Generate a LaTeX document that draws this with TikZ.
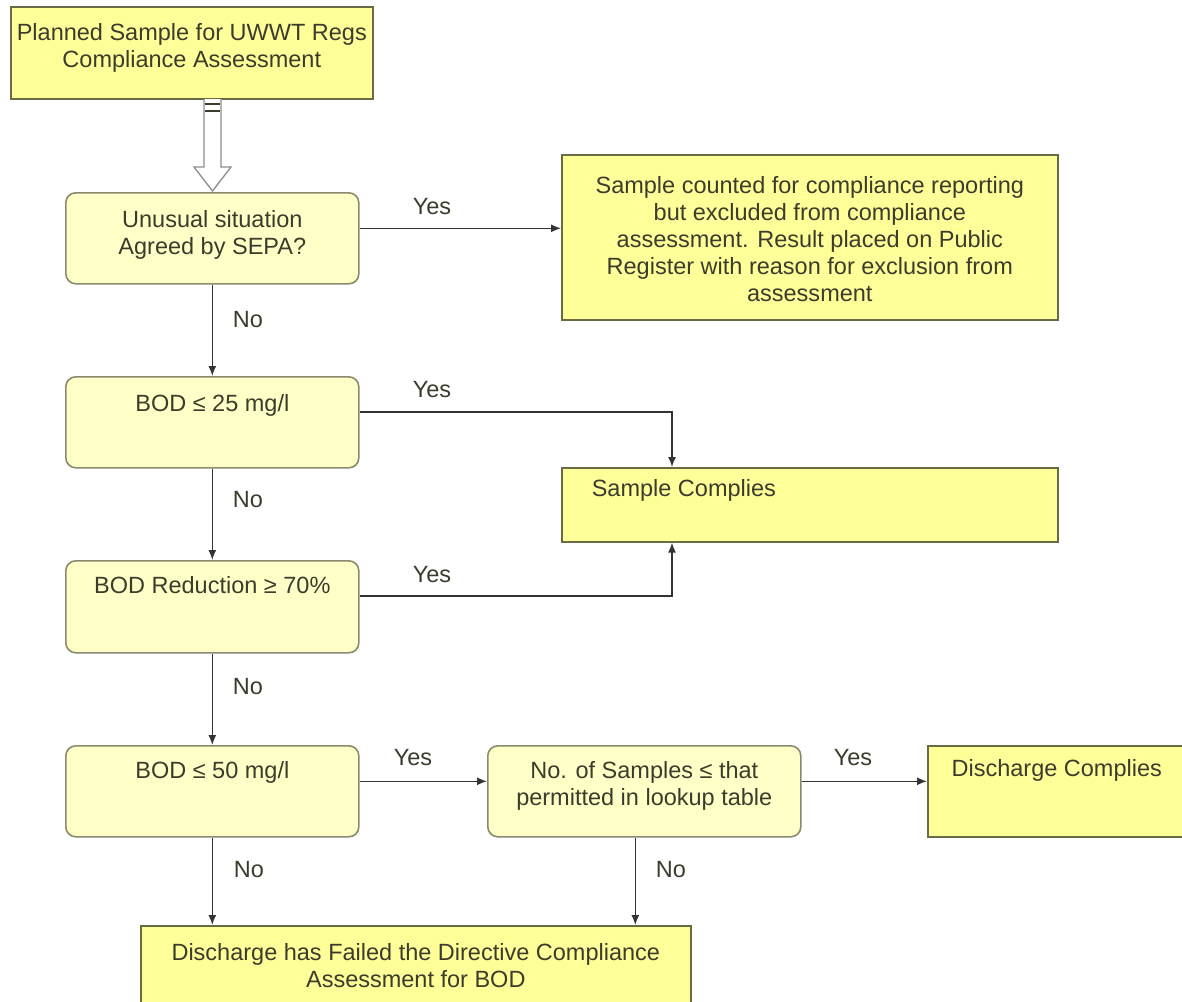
\documentclass[tikz,border=0pt]{standalone}
\usepackage{fontspec}
\setmainfont{Liberation Sans}
\usetikzlibrary{arrows.meta}

\definecolor{paleyel}{HTML}{FFFFC8}
\definecolor{brightyel}{HTML}{FFFF99}
\definecolor{softedge}{HTML}{8A8A6E}
\definecolor{darkedge}{HTML}{6A6A44}
\definecolor{inkgray}{HTML}{3C3C2C}
\definecolor{linegray}{HTML}{333333}
\definecolor{hollowgray}{HTML}{8C8C8C}

% text block: width, height, first baseline offset (all in pt), lines
\newcommand{\boxtxt}[4]{\parbox[c][#2pt][t]{#1pt}{\centering\vspace*{\dimexpr#3pt-\ht\strutbox\relax}\strut#4}}

\tikzset{
  decision/.style={draw=softedge, line width=1.6pt, fill=paleyel, rounded corners=10pt,
    inner sep=0pt, anchor=north west, text=inkgray, font=\fontsize{23.5}{27}\selectfont},
  outcome/.style={draw=darkedge, line width=1.6pt, fill=brightyel,
    inner sep=0pt, anchor=north west, text=inkgray, font=\fontsize{23.5}{27}\selectfont},
  flow/.style={draw=linegray, line width=1.5pt, -{Latex[length=10pt,width=8pt]}},
  tag/.style={text=inkgray, inner sep=0pt, font=\fontsize{23.5}{27}\selectfont}
}

\begin{document}
\begin{tikzpicture}[x=1pt,y=-1pt]
\useasboundingbox (0,0) rectangle (1182,1001);
\fill[white] (0,0) rectangle (1182,1001);

% boxes
\node[outcome]  (start)    at (10,6)    {\boxtxt{362}{92}{34}{Planned Sample for UWWT Regs\\Compliance Assessment}};
\node[decision] (unusual)  at (65,192)  {\boxtxt{293}{91}{35}{Unusual situation\\Agreed by SEPA?}};
\node[outcome]  (counted)  at (561,154) {\boxtxt{496}{165}{39}{Sample counted for compliance reporting\\but excluded from compliance\\assessment. Result placed on Public\\Register with reason for exclusion from\\assessment}};
\node[decision] (bod25)    at (65,376)  {\boxtxt{293}{91}{35}{BOD ≤ 25 mg/l}};
\node[outcome]  (complies) at (561,467) {\parbox[c][74pt][t]{496pt}{\vspace*{\dimexpr29pt-\ht\strutbox\relax}\strut\hspace*{30pt}Sample Complies}};
\node[decision] (red70)    at (65,560)  {\boxtxt{293}{92}{33}{BOD Reduction ≥ 70\%}};
\node[decision] (bod50)    at (65,745)  {\boxtxt{293}{91}{33}{BOD ≤ 50 mg/l}};
\node[decision] (nsamp)    at (487,745) {\boxtxt{313}{91}{33}{No. of Samples ≤ that\\permitted in lookup table}};
\node[outcome]  (dcomp)    at (927,745) {\boxtxt{258}{91}{31}{Discharge Complies}};
\node[outcome]  (failed)   at (140,925) {\boxtxt{550}{80}{35}{Discharge has Failed the Directive Compliance\\Assessment for BOD}};

% hollow block arrow under the start box
\draw[hollowgray, line width=1.3pt, fill=white]
  (204,99) -- (204,167) -- (194,167) -- (212.5,191) -- (231,167) -- (221,167) -- (221,99);
\draw[inkgray, line width=1.2pt] (205,104) -- (220,104) (205,111) -- (220,111);

% junction points on Sample Complies
\coordinate (cjoin)  at ([xshift=111pt]complies.north west);
\coordinate (cjoinb) at ([xshift=111pt]complies.south west);

% connectors
\draw[flow] ([yshift=10pt]unusual.east) -- ([yshift=10pt]unusual.east -| counted.west);
\draw[flow] (unusual.south) -- (bod25.north);
\draw[flow] ([yshift=10.5pt]bod25.east) -| (cjoin);
\draw[flow] (bod25.south) -- (red70.north);
\draw[flow] ([yshift=11pt]red70.east) -| (cjoinb);
\draw[flow] (red70.south) -- (bod50.north);
\draw[flow] ([yshift=10pt]bod50.east) -- ([yshift=10pt]bod50.east -| nsamp.west);
\draw[flow] ([yshift=10pt]nsamp.east) -- ([yshift=10pt]nsamp.east -| dcomp.west);
\draw[flow] (bod50.south) -- (bod50.south |- failed.north);
\draw[flow] ([xshift=-9pt]nsamp.south) -- ([xshift=-9pt]nsamp.south |- failed.north);

% branch labels
\node[tag] (y1) at (432,207) {Yes};
\node[tag] (n1) at (248,320) {No};
\node[tag] (y2) at (432,390) {Yes};
\node[tag] (n2) at (248,500) {No};
\node[tag] (y3) at (432,575) {Yes};
\node[tag] (n3) at (248,687) {No};
\node[tag] (y4) at (413,758) {Yes};
\node[tag] (y5) at (853,758) {Yes};
\node[tag] (n4) at (249,870) {No};
\node[tag] (n5) at (671,870) {No};
\end{tikzpicture}
\end{document}
